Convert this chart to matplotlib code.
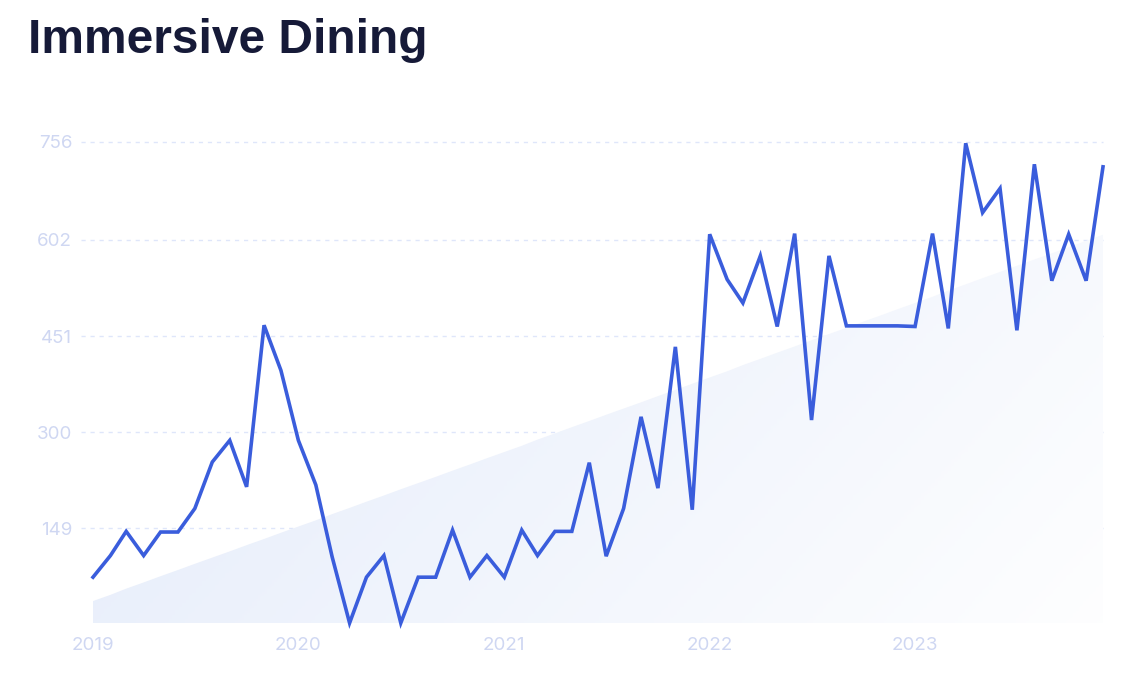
import numpy as np
import pandas as pd
import matplotlib
matplotlib.use('Agg')
import matplotlib.pyplot as plt
import matplotlib.dates as mdates
from matplotlib.colors import LinearSegmentedColormap

# monthly values
months = pd.date_range('2019-01-01', '2023-12-01', freq='MS')
values = [72, 106, 144, 106, 143, 143, 180, 253, 287, 214, 468, 397,
          287, 217, 104, 0, 72, 106, 0, 72, 72, 146, 72, 106,
          72, 146, 106, 144, 144, 252, 105, 180, 324, 212, 434, 178,
          611, 540, 503, 577, 466, 612, 319, 577, 467, 467, 467, 467,
          466, 612, 463, 754, 645, 683, 460, 721, 538, 611, 538, 717]
yticks = [149, 300, 451, 602, 756]
xtick_years = [2019, 2020, 2021, 2022, 2023]
title = 'Immersive Dining'

line_color = '#3a5ddc'
label_color = '#cfd7f2'
grid_color = '#dfe6fa'

fig = plt.figure(figsize=(11.42, 6.76), dpi=100)
ax = fig.add_axes([93 / 1142, 53 / 676, 1010 / 1142, 481 / 676])

x = mdates.date2num(months)
xs = np.arange(len(values))
slope, icpt = np.polyfit(xs, values, 1)
trend = slope * xs + icpt

# trend area with a soft diagonal gradient
fill = ax.fill_between(x, trend, 0, facecolor='none', edgecolor='none')
clip = fill.get_paths()[0]
u, v = np.meshgrid(np.linspace(0, 1, 300), np.linspace(0, 1, 200))
grad = 0.7 * u + 0.3 * (1 - v)
cmap = LinearSegmentedColormap.from_list('fade', ['#e2eafa', '#ffffff'])
im = ax.imshow(grad, extent=[x[0], x[-1], 0, 756], origin='lower',
               aspect='auto', cmap=cmap, vmin=0, vmax=1.05, zorder=1)
im.set_clip_path(clip, transform=ax.transData)

# dashed grid, reaching a little left of the plot
for yv in yticks:
    ax.plot([-0.012, 1], [yv, yv], transform=ax.get_yaxis_transform(),
            color=grid_color, lw=1, dashes=(3, 3.5), clip_on=False, zorder=0)

ax.plot(x, values, color=line_color, lw=2.6, zorder=3, clip_on=False,
        solid_joinstyle='miter')

ax.set_xlim(x[0], x[-1])
ax.set_ylim(0, 756)
ax.set_yticks(yticks)
ax.set_xticks(mdates.date2num([pd.Timestamp(f'{yr}-01-01') for yr in xtick_years]))
ax.set_xticklabels([str(yr) for yr in xtick_years])
for s in ax.spines.values():
    s.set_visible(False)
ax.tick_params(axis='both', length=0, labelsize=13.5, labelcolor=label_color)
ax.tick_params(axis='y', pad=15)
ax.tick_params(axis='x', pad=10)
for lab in ax.get_xticklabels() + ax.get_yticklabels():
    lab.set_family('Inter')

fig.text(28 / 1142, 1 - 53 / 676, title, fontsize=34.5, fontweight='bold',
         color='#161a38', family='Liberation Sans', va='baseline')

fig.savefig('out.png', dpi=100)
